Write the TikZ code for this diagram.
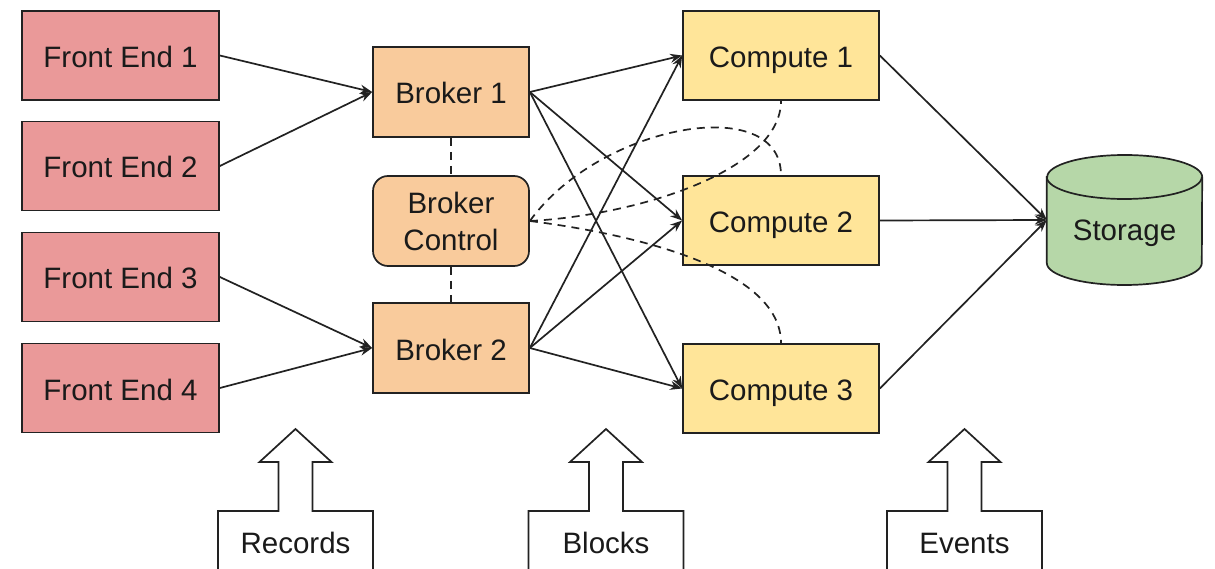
\documentclass[tikz,border=0pt]{standalone}
\usepackage{fontspec}
\setmainfont{Liberation Sans}
\usetikzlibrary{arrows.meta}
\definecolor{fecol}{HTML}{EA9999}
\definecolor{brcol}{HTML}{F9CB9C}
\definecolor{cpcol}{HTML}{FFE599}
\definecolor{stcol}{HTML}{B6D7A8}
\definecolor{lncol}{HTML}{222222}
\definecolor{txcol}{HTML}{1A1A1A}
\begin{document}
\begin{tikzpicture}[x=1pt,y=-1pt,
  box/.style={draw=lncol, line width=1.7pt, inner sep=0pt, text=txcol,
    font=\fontsize{29.5}{37}\selectfont, align=center},
  onel/.style={text height=28pt, text depth=4pt},
  febox/.style={box, onel, fill=fecol, minimum width=197pt, minimum height=89pt},
  brbox/.style={box, fill=brcol, minimum width=156pt, minimum height=90pt},
  cpbox/.style={box, onel, fill=cpcol, minimum width=196pt, minimum height=89pt},
  conn/.style={draw=lncol, line width=1.7pt, -{Stealth[length=12pt,width=9pt]}},
  ctl/.style={draw=lncol, line width=1.7pt, dash pattern=on 8pt off 6pt},
  lbl/.style={text=txcol, font=\fontsize{29.5}{37}\selectfont, inner sep=0pt},
  callout/.style={draw=lncol, line width=1.7pt, fill=white}
]
\useasboundingbox (0,0) rectangle (1215,569);
\fill[white] (0,0) rectangle (1215,569);

% Front ends
\node[febox] (fe1) at (120.5,55.5) {Front End 1};
\node[febox] (fe2) at (120.5,166) {Front End 2};
\node[febox] (fe3) at (120.5,277) {Front End 3};
\node[febox] (fe4) at (120.5,388) {Front End 4};

% Brokers
\node[brbox, onel] (b1) at (451,92) {Broker 1};
\node[brbox, rounded corners=15pt] (bc) at (451,221) {Broker\\Control};
\node[brbox, onel] (b2) at (451,348) {Broker 2};

% Computes
\node[cpbox] (c1) at (781,55.5) {Compute 1};
\node[cpbox] (c2) at (781,220.5) {Compute 2};
\node[cpbox] (c3) at (781,388.5) {Compute 3};

% Storage (cylinder)
\node[minimum width=155pt, minimum height=130pt, inner sep=0pt] (st) at (1124.5,220) {};
\path[fill=stcol, draw=lncol, line width=1.7pt]
  (st.west |- 0,177) -- (st.west |- 0,263)
  arc[start angle=180, end angle=360, x radius=77.5pt, y radius=22pt]
  -- (st.east |- 0,177)
  arc[start angle=0, end angle=180, x radius=77.5pt, y radius=22pt] -- cycle;
\draw[lncol, line width=1.7pt] (st.west |- 0,177)
  arc[start angle=180, end angle=360, x radius=77.5pt, y radius=22pt];
\node[lbl] (stl) at (1124.5,233) {Storage};

% Front end -> broker
\draw[conn] (fe1.east) -- (b1.west);
\draw[conn] (fe2.east) -- (b1.west);
\draw[conn] (fe3.east) -- (b2.west);
\draw[conn] (fe4.east) -- (b2.west);

% Broker -> compute
\foreach \b in {b1,b2}{
  \foreach \c in {c1,c2,c3}{
    \draw[conn] (\b.east) -- (\c.west);
  }
}

% Compute -> storage
\foreach \c in {c1,c2,c3}{
  \draw[conn] (\c.east) -- (st.west);
}

% Broker control dashed links
\draw[ctl] (b1.south) -- (bc.north);
\draw[ctl] (bc.south) -- (b2.north);
\draw[ctl] (bc.east) .. controls (640,215) and (c1.south |- 0,170) .. (c1.south);
\draw[ctl] (bc.east) .. controls (600,124) and (c2.north |- 0,92) .. (c2.north);
\draw[ctl] (bc.east) .. controls (640,235) and (c3.north |- 0,270) .. (c3.north);

% Bottom callouts
\foreach \cx/\txt/\nm in {295.5/Records/rec, 606/Blocks/blk, 964.5/Events/evt}{
  \draw[callout] (\cx-77.5,570) -- (\cx-77.5,511) -- (\cx-17,511) -- (\cx-17,462)
    -- (\cx-36,462) -- (\cx,429) -- (\cx+36,462) -- (\cx+17,462) -- (\cx+17,511)
    -- (\cx+77.5,511) -- (\cx+77.5,570);
  \node[lbl] (\nm) at (\cx,543) {\txt};
}
\end{tikzpicture}
\end{document}
